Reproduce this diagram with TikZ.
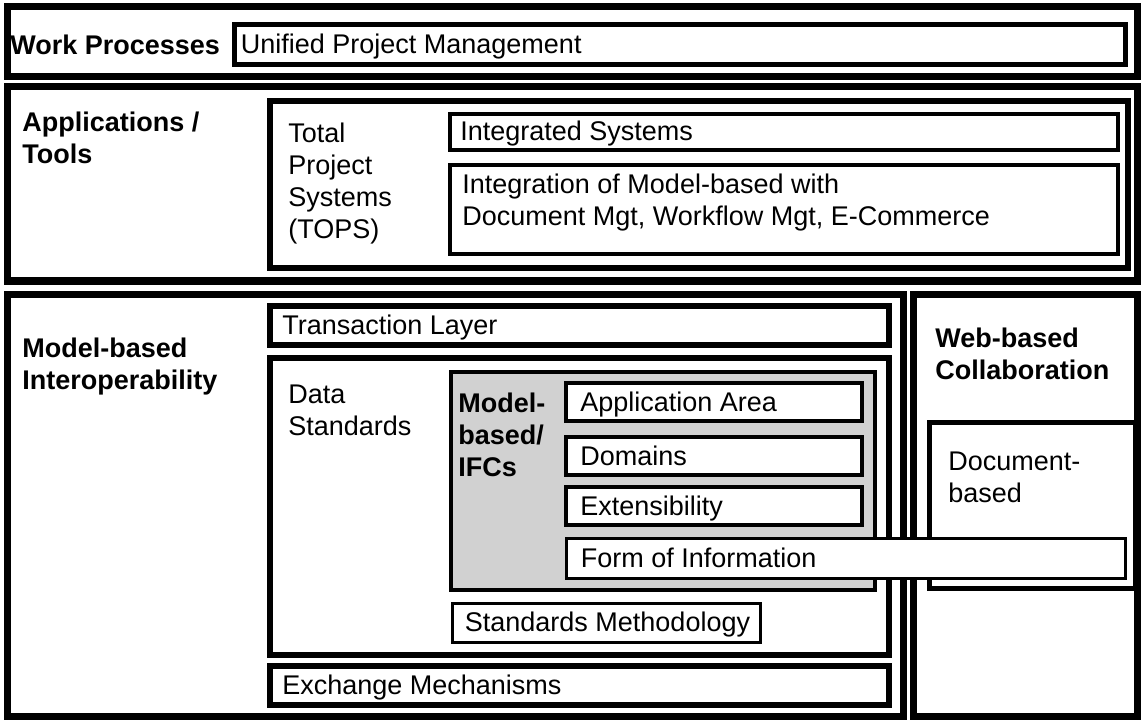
\documentclass[tikz,border=0pt]{standalone}
\usepackage{fontspec}
\setmainfont{Liberation Sans}
\usetikzlibrary{fit}

\begin{document}
\begin{tikzpicture}[x=0.5pt,y=-0.5pt]
  \tikzset{frame/.style = {draw,line width=3.5pt,inner sep=0pt}}
  \tikzset{panel/.style = {draw,line width=3pt,inner sep=0pt}}
  \tikzset{cell/.style = {draw,line width=2pt,inner sep=0pt,fill=white}}
  \tikzset{head/.style = {anchor=north west,inner sep=0pt,align=left,font=\bfseries\fontsize{13.5}{16}\selectfont}}
  \tikzset{txt/.style = {anchor=north west,inner sep=0pt,align=left,font=\fontsize{13.5}{16}\selectfont}}
  \tikzset{celltxt/.style = {txt,anchor=base west,yshift=-4.5pt}}
  \useasboundingbox (0,0) rectangle (1143,721);

  % work processes
  \node[frame,fit={(7,7) (1137,77)}] (work) {};
  \node[head,anchor=base west] (workL) at (10,55) {Work Processes};
  \node[cell,line width=2.5pt,fit={(234,25) (1125,65)}] (upm) {};
  \node[celltxt] (upmL) at ([xshift=4.5pt]upm.west) {Unified Project Management};

  % applications
  \node[frame,fit={(7,87) (1137,281)}] (apps) {};
  \node[head] (appsL) at (22,112) {Applications /\\Tools};
  \node[panel,fit={(270,101) (1128,268)}] (tops) {};
  \node[txt] (topsL) at (288,123) {Total\\Project\\Systems\\(TOPS)};
  \node[cell,fit={(450,114) (1118,150)}] (intsys) {};
  \node[celltxt] (intsysL) at ([xshift=6pt]intsys.west) {Integrated Systems};
  \node[cell,fit={(450,165) (1118,254)}] (integ) {};
  \node[txt] (integL) at (462,174) {Integration of Model-based with\\Document Mgt, Workflow Mgt, E-Commerce};

  % model-based interoperability
  \node[frame,fit={(7,294) (903,716)}] (model) {};
  \node[head] (modelL) at (22,338) {Model-based\\Interoperability};
  \node[panel,fit={(270,306) (889,345)}] (trans) {};
  \node[celltxt] (transL) at ([xshift=7.5pt]trans.west) {Transaction Layer};
  \node[panel,fit={(270,358) (889,655)}] (data) {};
  \node[txt] (dataL) at (288,385) {Data\\Standards};
  \node[cell,fill=black!18,fit={(451,372) (875,590)}] (ifc) {};
  \node[head] (ifcL) at (458,393) {Model-\\based/\\IFCs};
  \foreach \n/\y/\t in {app/383/Application Area,dom/437/Domains,ext/487/Extensibility}
  {
    \node[cell,fit={(566,\y) (862,\y+38)}] (\n) {};
    \node[celltxt] (\n L) at ([xshift=8pt]\n.west) {\t};
  }
  \node[cell,line width=1.5pt,fit={(452,603) (760,642)}] (meth) {};
  \node[celltxt] (methL) at ([xshift=7pt]meth.west) {Standards Methodology};
  \node[panel,fit={(270,666) (889,705)}] (exch) {};
  \node[celltxt] (exchL) at ([xshift=7.5pt]exch.west) {Exchange Mechanisms};

  % web-based collaboration
  \node[frame,fit={(913,294) (1137,716)}] (web) {};
  \node[head] (webL) at (935,328) {Web-based\\Collaboration};
  \node[panel,line width=2.5pt,fit={(929,422) (1135,588)}] (doc) {};
  \node[txt] (docL) at (948,452) {Document-\\based};

  % lies over both columns
  \node[cell,line width=1.5pt,fit={(566,538) (1125,578)}] (form) {};
  \node[celltxt] (formL) at ([xshift=8pt]form.west) {Form of Information};
\end{tikzpicture}
\end{document}
